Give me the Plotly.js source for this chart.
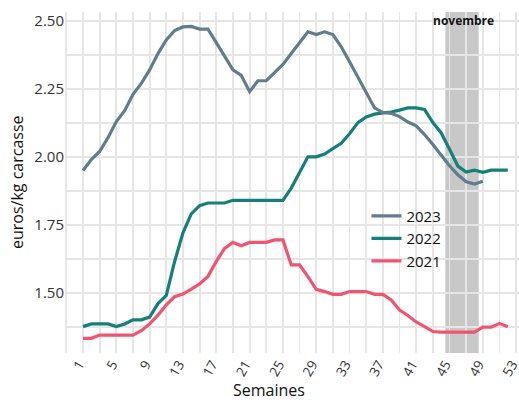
<!DOCTYPE html>
<html>
<head>
<meta charset="utf-8">
<script src="https://cdn.plot.ly/plotly-3.0.1.min.js"></script>
<style>html,body{margin:0;padding:0;background:#fff;}#chart{width:519px;height:400px;}</style>
</head>
<body>
<div id="chart"></div>
<script>
// ---- data ----
const weeks2023 = [1,2,3,4,5,6,7,8,9,10,11,12,13,14,15,16,17,18,19,20,21,22,23,24,25,26,27,28,29,30,31,32,33,34,35,36,37,38,39,40,41,42,43,44,45,46,47,48,49];
const prix2023 = [1.95,1.99,2.02,2.07,2.13,2.17,2.23,2.27,2.32,2.38,2.43,2.465,2.478,2.48,2.47,2.47,2.42,2.37,2.32,2.30,2.24,2.28,2.28,2.31,2.34,2.38,2.42,2.46,2.45,2.46,2.45,2.405,2.35,2.295,2.235,2.18,2.163,2.16,2.148,2.128,2.114,2.082,2.045,2.005,1.967,1.934,1.908,1.90,1.91];

const weeks2022 = [1,2,3,4,5,6,7,8,9,10,11,12,13,14,15,16,17,18,19,20,21,22,23,24,25,26,27,28,29,30,31,32,33,34,35,36,37,38,39,40,41,42,43,44,45,46,47,48,49,50,51,52];
const prix2022 = [1.375,1.385,1.385,1.385,1.375,1.385,1.40,1.40,1.41,1.46,1.49,1.615,1.72,1.79,1.82,1.83,1.83,1.83,1.84,1.84,1.84,1.84,1.84,1.84,1.84,1.885,1.945,2.00,2.00,2.01,2.03,2.05,2.085,2.126,2.147,2.157,2.162,2.165,2.172,2.18,2.18,2.174,2.126,2.088,2.028,1.966,1.944,1.951,1.943,1.951,1.951,1.951];

const weeks2021 = [1,2,3,4,5,6,7,8,9,10,11,12,13,14,15,16,17,18,19,20,21,22,23,24,25,26,27,28,29,30,31,32,33,34,35,36,37,38,39,40,41,42,43,44,45,46,47,48,49,50,51,52];
const prix2021 = [1.332,1.332,1.344,1.344,1.344,1.344,1.344,1.36,1.385,1.417,1.455,1.485,1.495,1.513,1.532,1.56,1.615,1.663,1.685,1.673,1.685,1.685,1.685,1.694,1.694,1.602,1.602,1.559,1.512,1.504,1.494,1.494,1.504,1.504,1.504,1.494,1.494,1.473,1.436,1.416,1.392,1.375,1.357,1.355,1.355,1.355,1.355,1.355,1.373,1.373,1.387,1.375];

const seriesNames = ['2021','2022','2023'];
const xTickLabels = ['1','5','9','13','17','21','25','29','33','37','41','45','49','53'];
const yTickLabels = ['1.50','1.75','2.00','2.25','2.50'];
const novembreDebut = 44.5, novembreFin = 48.5;
const novembreLabel = 'novembre';
const xTitle = 'Semaines';
const yTitle = 'euros/kg carcasse';

// ---- ticks / grid ----
const xTickVals = [], xTickText = [];
for (let w = -1; w <= 53; w += 2) {
  xTickVals.push(w);
  const lab = xTickLabels.indexOf(String(w));
  xTickText.push(lab >= 0 ? xTickLabels[lab] : '');
}
const yTickVals = [], yTickText = [];
for (let k = 0; k <= 9; k++) {
  const v = 1.375 + k * 0.125;
  yTickVals.push(v);
  const s = v.toFixed(2);
  yTickText.push(yTickLabels.indexOf(s) >= 0 ? s : '');
}

const colors = {'2021': '#f0546f', '2022': '#157f7a', '2023': '#607d8b'};
const xs = {'2021': weeks2021, '2022': weeks2022, '2023': weeks2023};
const ys = {'2021': prix2021, '2022': prix2022, '2023': prix2023};

const traces = seriesNames.map(n => ({
  type: 'scatter', mode: 'lines', name: n,
  x: xs[n], y: ys[n],
  line: {color: colors[n], width: 3.2},
  hoverinfo: 'skip'
}));

const font = 'Open Sans, Noto Sans, sans-serif';
const layout = {
  width: 519, height: 400,
  margin: {l: 65, r: 0, t: 12, b: 47, pad: 0},
  paper_bgcolor: '#ffffff', plot_bgcolor: '#ffffff',
  font: {family: font, size: 15, color: '#333333'},
  showlegend: true,
  legend: {
    x: 0.664, y: 0.45, xanchor: 'left', yanchor: 'top',
    traceorder: 'reversed', bgcolor: 'rgba(0,0,0,0)',
    font: {family: font, size: 15, color: '#111111'}
  },
  xaxis: {
    range: [-1.16, 53.34], tickmode: 'array', tickvals: xTickVals, ticktext: xTickText,
    tickangle: -60, showgrid: true, gridcolor: '#e6e6e6', gridwidth: 1.8,
    zeroline: false, showline: false, ticks: '', fixedrange: true,
    ticklabeloverflow: 'allow', ticklabelshift: -4,
    tickfont: {family: font, size: 13.5, color: '#333333'}
  },
  yaxis: {
    range: [1.278, 2.533], tickmode: 'array', tickvals: yTickVals, ticktext: yTickText,
    showgrid: true, gridcolor: '#e6e6e6', gridwidth: 1.8,
    zeroline: false, showline: false, ticks: '', fixedrange: true,
    tickfont: {family: font, size: 15, color: '#333333'}
  },
  shapes: [{
    type: 'rect', layer: 'below', xref: 'x', yref: 'paper',
    x0: novembreDebut, x1: novembreFin, y0: 0, y1: 1,
    fillcolor: '#c8c8c8', line: {width: 0}
  }],
  annotations: [
    {text: '<b>' + novembreLabel + '</b>', xref: 'x', yref: 'paper',
     x: 46.62, y: 0.975, xanchor: 'center', yanchor: 'middle',
     showarrow: false, font: {family: font, size: 12, color: '#111111'}},
    {text: xTitle, xref: 'paper', yref: 'paper', x: (269 - 65) / 454, y: -0.108,
     xanchor: 'center', yanchor: 'middle', showarrow: false,
     font: {family: font, size: 16, color: '#111111'}},
    {text: yTitle, xref: 'paper', yref: 'paper', x: (16.5 - 65) / 454, y: 0.5,
     xanchor: 'center', yanchor: 'middle', textangle: -90, showarrow: false,
     font: {family: font, size: 16, color: '#111111'}}
  ]
};

Plotly.newPlot('chart', traces, layout, {displayModeBar: false, staticPlot: true});
</script>
</body>
</html>
